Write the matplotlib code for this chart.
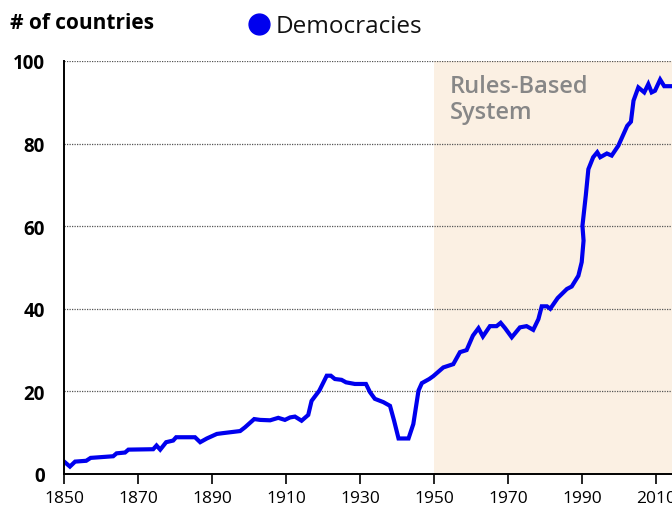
import matplotlib.pyplot as plt
from matplotlib.lines import Line2D

years = [1850.3, 1851.6, 1853, 1856, 1857.2, 1863.3, 1864.2, 1866.5, 1867.4, 1874.1,
         1875, 1876, 1877.6, 1879.5, 1880.3, 1885.4, 1886.8, 1888.6, 1891.3, 1893,
         1897.6, 1898.9, 1901.4, 1903, 1905.7, 1907.9, 1909.7, 1911.1, 1912.4, 1914.2,
         1916, 1916.9, 1919, 1921, 1922.1, 1923.2, 1925, 1926.2, 1928.6, 1931.6,
         1932.7, 1934, 1936.3, 1938.1, 1939.2, 1940.4, 1943.1, 1944.4, 1945.8, 1946.7,
         1948.7, 1949.8, 1952.5, 1955.2, 1957, 1958.8, 1960.5, 1962, 1963.2, 1965.1,
         1966.9, 1968, 1969.2, 1971, 1973.2, 1975, 1976.8, 1978.2, 1979.1, 1980.5,
         1981.4, 1983.4, 1985.9, 1987.2, 1989, 1989.9, 1990.4, 1990.1, 1990.8, 1991,
         1991.7, 1993, 1994.1, 1994.9, 1996.7, 1998, 1999.8, 2001.2, 2002.2, 2003.2,
         2003.9, 2005.2, 2006.8, 2007.9, 2008.8, 2009.7, 2011.1, 2012.2, 2014.5]
democracies = [2.8, 1.8, 3, 3.2, 3.9, 4.3, 5, 5.2, 5.9, 6,
               6.9, 5.9, 7.7, 8.1, 8.9, 8.9, 7.7, 8.6, 9.7, 9.9,
               10.4, 11.3, 13.3, 13.1, 13, 13.6, 13.1, 13.7, 13.9, 12.9,
               14.3, 17.7, 20.2, 23.8, 23.8, 23, 22.8, 22.2, 21.8, 21.8,
               19.8, 18.2, 17.4, 16.5, 12.9, 8.6, 8.6, 12.1, 20.2, 22,
               23, 23.7, 25.8, 26.6, 29.5, 30, 33.5, 35.3, 33.3, 35.8,
               35.8, 36.6, 35.3, 33.1, 35.5, 35.8, 34.9, 37.5, 40.6, 40.6,
               40, 42.6, 44.8, 45.4, 48, 51.3, 56.5, 60.1, 65.8, 67.4,
               73.8, 76.7, 77.9, 76.7, 77.6, 77.1, 79.5, 82.3, 84.3, 85.3,
               90.4, 93.6, 92.4, 94.4, 92.4, 92.8, 95.5, 93.9, 93.9]

x_ticks = [1850, 1870, 1890, 1910, 1930, 1950, 1970, 1990, 2010]
y_ticks = [0, 20, 40, 60, 80, 100]
shade_start = 1950

plt.rcParams['font.family'] = ['Open Sans', 'DejaVu Sans']

fig = plt.figure(figsize=(6.72, 5.06), dpi=100)
ax = fig.add_axes([64 / 672, 1 - 475 / 506, 1 - 64 / 672, (475 - 62) / 506])

ax.axvspan(shade_start, 2020, color='#fbf0e3', lw=0, zorder=0)
for y in y_ticks[1:]:
    ax.axhline(y, color='#555555', lw=0.9, ls=(0, (1, 1)), zorder=1)

ax.plot(years, democracies, color='#0000ee', lw=3, zorder=3, solid_joinstyle='miter')

ax.set_xlim(1850, 2014.3)
ax.set_ylim(0, 100)
ax.set_xticks(x_ticks)
ax.set_yticks(y_ticks)
ax.tick_params(axis='x', length=7.5, width=1.2, labelsize=12.5, pad=4)
ax.tick_params(axis='y', length=0, labelsize=13.5, pad=14)
for lab in ax.get_yticklabels():
    lab.set_fontweight('bold')

for s in ['top', 'right']:
    ax.spines[s].set_visible(False)
for s in ['left', 'bottom']:
    ax.spines[s].set_linewidth(1.4)
    ax.spines[s].set_zorder(4)

ax.text(1954.3, 96.8, 'Rules-Based\nSystem', color='#878787', fontsize=17,
        fontweight='semibold', va='top', ha='left', linespacing=1.08)

fig.text(10 / 672, 1 - 24 / 506, '# of countries', fontsize=15, fontweight='bold',
         va='center', ha='left')
fig.add_artist(Line2D([259 / 672], [1 - 25 / 506], marker='o', markersize=15,
                      color='#0000ee', transform=fig.transFigure))
fig.text(276 / 672, 1 - 27 / 506, 'Democracies', fontsize=17.5, va='center', ha='left',
         color='#111111')

fig.savefig('out.png', dpi=100)
